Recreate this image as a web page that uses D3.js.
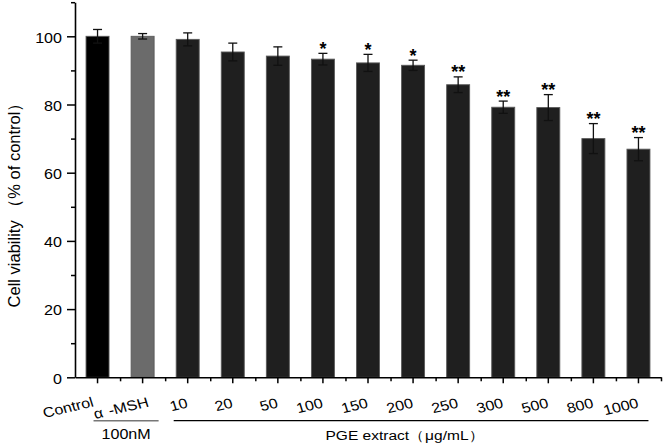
<!DOCTYPE html>
<html>
<head>
<meta charset="utf-8">
<script src="https://cdn.jsdelivr.net/npm/d3@7"></script>
<style>
html,body{margin:0;padding:0;background:#fff;}
svg{display:block;font-family:"Liberation Sans",Arial,Helvetica,sans-serif;}
</style>
</head>
<body>
<svg id="chart" width="664" height="443"></svg>
<script>
const categories = ["Control","α -MSH","10","20","50","100","150","200","250","300","500","800","1000"];
const values = [100,100,99.1,95.4,94.2,93.3,92.2,91.5,85.8,79.2,79.1,70.0,66.9];
const errors = [2.0,0.8,1.9,2.6,2.7,1.7,2.5,1.5,2.3,1.8,3.8,4.4,3.4];
const stars = ["","","","","","*","*","*","**","**","**","**","**"];
const yMajorTicks = [0,20,40,60,80,100];
const yMinorTicks = [10,30,50,70,90,110];
const barColors = ["#000000","#6b6b6b","#1f1f1f","#1f1f1f","#1f1f1f","#1f1f1f","#1f1f1f","#1f1f1f","#1f1f1f","#1f1f1f","#1f1f1f","#1f1f1f","#1f1f1f"];
const yTitle = "Cell viability （% of control）";
const group1 = "100nM";
const group2 = "PGE extract（μg/mL）";

const svg = d3.select("#chart");
const x0 = 75, x1 = 661, yBottom = 377.3, yTop = 2.2;
const x = d3.scaleBand().domain(categories).range([x0, x1]).padding(0);
const xi = d3.scaleLinear().domain([0, categories.length]).range([x0, x1]);
const y = d3.scaleLinear().domain([0, 110]).range([yBottom, yTop]);
const bw = x.bandwidth() * 0.51;
const cx = c => x(c) + x.bandwidth() / 2;
const SX = 1.15;

// bars
svg.append("g").selectAll("rect").data(categories).join("rect")
  .attr("x", c => cx(c) - bw / 2)
  .attr("width", bw)
  .attr("y", (c, i) => y(values[i]))
  .attr("height", (c, i) => y(0) - y(values[i]))
  .attr("fill", (c, i) => barColors[i])
  .attr("stroke", "#5a5a5a")
  .attr("stroke-width", 0.9);

// error bars
const eg = svg.append("g").attr("stroke", "#111").attr("stroke-width", 1.3);
categories.forEach((c, i) => {
  const xc = cx(c), hi = y(values[i] + errors[i]), lo = y(values[i] - errors[i]);
  eg.append("line").attr("x1", xc).attr("x2", xc).attr("y1", hi).attr("y2", lo);
  eg.append("line").attr("x1", xc - 4.5).attr("x2", xc + 4.5).attr("y1", hi).attr("y2", hi);
  eg.append("line").attr("x1", xc - 4.5).attr("x2", xc + 4.5).attr("y1", lo).attr("y2", lo);
});

// stars
svg.append("g").selectAll("text").data(categories).join("text")
  .attr("x", c => cx(c))
  .attr("y", (c, i) => y(values[i] + errors[i]) + 1.5)
  .attr("text-anchor", "middle")
  .attr("font-size", 18)
  .attr("font-weight", "bold")
  .attr("fill", "#000")
  .text((c, i) => stars[i]);

// y axis
const yAxis = svg.append("g").attr("transform", `translate(${x0},0)`)
  .call(d3.axisLeft(y).tickValues(yMajorTicks).tickSize(8).tickSizeOuter(0).tickPadding(5));
yAxis.selectAll(".domain").attr("stroke", "#000").attr("stroke-width", 1.6);
yAxis.selectAll(".tick line").attr("stroke", "#000").attr("stroke-width", 1.5);
yAxis.selectAll(".tick text")
  .attr("font-size", 14).attr("fill", "#000")
  .attr("font-family", "'Liberation Sans',Arial,sans-serif")
  .attr("x", -13 / SX).attr("dy", "0.42em")
  .attr("transform", `scale(${SX},1)`);
const yMinor = svg.append("g").attr("transform", `translate(${x0},0)`)
  .call(d3.axisLeft(y).tickValues(yMinorTicks).tickSize(4).tickSizeOuter(0).tickFormat(""));
yMinor.selectAll(".domain").remove();
yMinor.selectAll(".tick line").attr("stroke", "#000").attr("stroke-width", 1.5);

// x axis
const xAxis = svg.append("g").attr("transform", `translate(0,${yBottom})`)
  .call(d3.axisBottom(x).tickSize(6).tickSizeOuter(0));
xAxis.selectAll(".domain").attr("stroke", "#000").attr("stroke-width", 1.6);
xAxis.selectAll(".tick line").attr("stroke", "#000").attr("stroke-width", 1.5);
const labelShift = i => (i === 0 ? -3 : i === 1 ? 7 : 1);
xAxis.selectAll(".tick text")
  .attr("font-size", 14).attr("fill", "#000")
  .attr("font-family", "'Liberation Sans',Arial,sans-serif")
  .attr("text-anchor", "end")
  .attr("x", 0).attr("y", 0).attr("dy", 0)
  .attr("transform", (c, i) => `translate(${labelShift(i)},${i < 2 ? 29 : 30}) scale(${SX},1) rotate(-15)`)
  .each(function (c) {
    if (c.indexOf("-") > 0) {
      const t = d3.select(this), parts = c.split(" ");
      t.text("");
      t.append("tspan").text(parts[0]);
      t.append("tspan").attr("dx", 5).text(parts.slice(1).join(" "));
    }
  });
const xMinor = svg.append("g").attr("transform", `translate(0,${yBottom})`)
  .call(d3.axisBottom(xi).tickValues(d3.range(1, categories.length + 1)).tickSize(4).tickSizeOuter(0).tickFormat(""));
xMinor.selectAll(".domain").remove();
xMinor.selectAll(".tick line").attr("stroke", "#000").attr("stroke-width", 1.5);

// y title
svg.append("text")
  .attr("transform", "translate(20,201) rotate(-90)")
  .attr("text-anchor", "middle")
  .attr("font-size", 16.5)
  .attr("fill", "#000")
  .text(yTitle);

// group annotations
const g1a = cx(categories[0]) - 4, g1b = cx(categories[1]) + 16;
const g2a = cx(categories[2]) - 14, g2b = cx(categories[12]) + 10;
svg.append("line").attr("x1", g1a).attr("x2", g1b).attr("y1", 420.7).attr("y2", 420.7)
  .attr("stroke", "#777").attr("stroke-width", 1.5);
svg.append("line").attr("x1", g2a).attr("x2", g2b).attr("y1", 420.7).attr("y2", 420.7)
  .attr("stroke", "#000").attr("stroke-width", 1.3);
svg.append("text")
  .attr("transform", `translate(${(g1a + g1b) / 2},438.5) scale(${SX},1)`)
  .attr("text-anchor", "middle").attr("font-size", 14).attr("fill", "#000")
  .text(group1);
svg.append("text")
  .attr("transform", `translate(405,440) scale(${SX},1)`)
  .attr("text-anchor", "middle").attr("font-size", 13.5).attr("fill", "#000")
  .text(group2);
</script>
</body>
</html>
